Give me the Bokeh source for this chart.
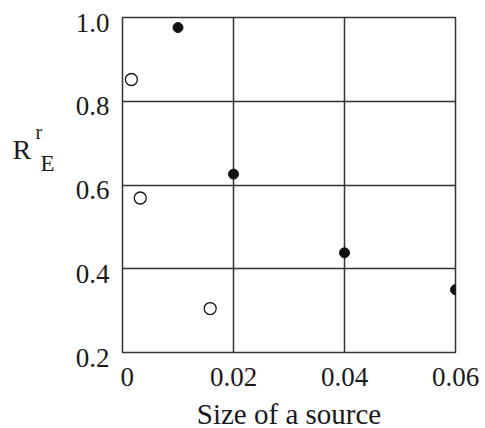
from bokeh.plotting import figure
from bokeh.models import Range1d, FixedTicker
from bokeh.layouts import row, column
from bokeh.embed import file_html
from bokeh.resources import INLINE

# Data
filled_x = [0.01, 0.02, 0.04, 0.06]
filled_y = [0.976, 0.626, 0.438, 0.35]
open_x = [0.0016, 0.0032, 0.0158]
open_y = [0.852, 0.569, 0.305]
x_ticks = [0, 0.02, 0.04, 0.06]
x_tick_labels = ["0", "0.02", "0.04", "0.06"]
y_ticks = [0.2, 0.4, 0.6, 0.8, 1.0]
y_tick_labels = ["0.2", "0.4", "0.6", "0.8", "1.0"]

FONT = "Liberation Serif"
TXT = "#1a1a1a"
LINE = "#333333"

X0, X1 = 0.0, 0.06
Y0, Y1 = 0.2, 1.0
TOP, FH, FW, TOTAL_H = 17, 335, 333, 428
BOTTOM = TOTAL_H - TOP - FH
STRIP_W = 120

# ---- main plot ----
p = figure(width=2 + FW + 30, height=TOTAL_H, output_backend="svg",
           toolbar_location=None, x_range=Range1d(X0, X1), y_range=Range1d(Y0, Y1),
           frame_width=FW, frame_height=FH, y_axis_location=None,
           min_border_left=2, min_border_right=30, min_border_top=TOP,
           min_border_bottom=BOTTOM)
p.background_fill_color = "white"
p.border_fill_color = "white"
p.outline_line_color = LINE
p.outline_line_width = 1.5

xax = p.xaxis[0]
xax.ticker = FixedTicker(ticks=x_ticks)
xax.major_label_overrides = {t: l for t, l in zip(x_ticks, x_tick_labels)}
xax.major_label_text_font = FONT
xax.major_label_text_font_size = "27px"
xax.major_label_text_color = TXT
xax.major_label_standoff = 9
xax.axis_label = "Size of a source"
xax.axis_label_text_font = FONT
xax.axis_label_text_font_size = "29px"
xax.axis_label_text_font_style = "normal"
xax.axis_label_text_color = TXT
xax.axis_label_standoff = 9
xax.axis_line_color = None
xax.major_tick_line_color = None
xax.minor_tick_line_color = None

p.xgrid.ticker = FixedTicker(ticks=x_ticks)
p.ygrid.ticker = FixedTicker(ticks=y_ticks)
for g in (p.xgrid, p.ygrid):
    g.grid_line_color = LINE
    g.grid_line_width = 1.5

p.scatter(open_x, open_y, marker="circle", size=12, fill_color="white",
          line_color="#111111", line_width=1.3)
p.scatter(filled_x, filled_y, marker="circle", size=10, fill_color="#111111",
          line_color="#111111")

# ---- left strip: y tick labels and y-axis title ----
px_per_unit = FH / (Y1 - Y0)
ystart = Y0 - BOTTOM / px_per_unit
yend = Y1 + TOP / px_per_unit
left = figure(width=STRIP_W, height=TOTAL_H, output_backend="svg", toolbar_location=None,
              x_range=Range1d(0, STRIP_W), y_range=Range1d(ystart, yend),
              frame_width=STRIP_W, frame_height=TOTAL_H,
              x_axis_type=None, y_axis_type=None,
              min_border_left=0, min_border_right=0, min_border_top=0, min_border_bottom=0)
left.extra_y_ranges = {"px": Range1d(TOTAL_H, 0)}
left.outline_line_color = None
left.background_fill_color = "white"
left.border_fill_color = "white"
left.xgrid.visible = False
left.ygrid.visible = False

left.text(x=[109] * len(y_ticks), y=y_ticks, text=y_tick_labels,
          text_align="right", text_baseline="middle", y_offset=5,
          text_font={"value": FONT}, text_font_size="27px", text_color=TXT)

left.text(x=[12], y=[149], text=["R"], y_range_name="px",
          text_align="left", text_baseline="alphabetic",
          text_font={"value": FONT}, text_font_size="28px", text_color=TXT)
left.text(x=[35], y=[131], text=["r"], y_range_name="px",
          text_align="left", text_baseline="alphabetic",
          text_font={"value": FONT}, text_font_size="20px", text_color=TXT)
left.text(x=[40], y=[163], text=["E"], y_range_name="px",
          text_align="left", text_baseline="alphabetic",
          text_font={"value": FONT}, text_font_size="23px", text_color=TXT)

layout = row(column(left), column(p))
open("out.html", "w").write(file_html(layout, INLINE))
